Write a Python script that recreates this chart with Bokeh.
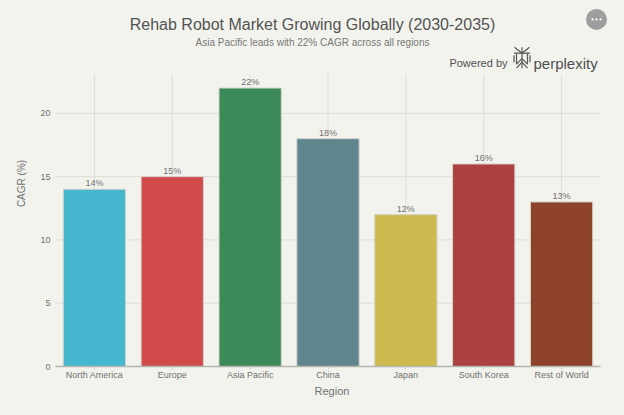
from bokeh.plotting import figure
from bokeh.models import ColumnDataSource, Label, LabelSet, Range1d, FixedTicker
from bokeh.embed import file_html
from bokeh.resources import INLINE
from bokeh.core.properties import value

regions = ["North America", "Europe", "Asia Pacific", "China", "Japan", "South Korea", "Rest of World"]
cagr = [14, 15, 22, 18, 12, 16, 13]
cagr_labels = ["14%", "15%", "22%", "18%", "12%", "16%", "13%"]
colors = ["#45B7CE", "#D24B4B", "#3C8A57", "#5F868E", "#CFBA4F", "#AC4140", "#8E422A"]
y_ticks = [0, 5, 10, 15, 20]

title_text = "Rehab Robot Market Growing Globally (2030-2035)"
subtitle_text = "Asia Pacific leads with 22% CAGR across all regions"

BG = "#F3F3EE"
FONT = "Liberation Sans"
YMAX = 23.1
W, H = 608, 399
X0, PXX = 55.0, 545.0 / 7     # x of category axis start, px per category
PLOT_TOP = 74                 # y of the top of the value area
FB = 368                      # y of value 0 (frame bottom)
PXU = (FB - PLOT_TOP) / YMAX  # px per unit

xpos = [i + 0.5 for i in range(len(regions))]
source = ColumnDataSource(dict(x=xpos, cagr=cagr, label=cagr_labels, color=colors))

p = figure(x_range=Range1d(0, (W - X0) / PXX), y_range=Range1d(0, FB / PXU),
           width=W, height=H, output_backend="svg", toolbar_location=None,
           min_border_left=int(X0), min_border_right=0, min_border_top=0, min_border_bottom=H - FB)
p.background_fill_color = BG
p.border_fill_color = BG
p.outline_line_color = None
p.xgrid.visible = False
p.ygrid.visible = False


def dx(rx):
    return (rx - X0) / PXX


def dy(ry):
    return (FB - ry) / PXU


GRID = "#DEDED8"
p.segment(x0=xpos, y0=[0] * len(xpos), x1=xpos, y1=[YMAX] * len(xpos), line_color=GRID, line_width=1)
p.segment(x0=[dx(52)] * len(y_ticks), y0=y_ticks, x1=[len(regions)] * len(y_ticks), y1=y_ticks,
          line_color=GRID, line_width=1)

p.vbar(x="x", top="cagr", width=0.8, source=source, fill_color="color",
       line_color="#D3D3CD", line_width=1)

labels = LabelSet(x="x", y="cagr", text="label", source=source, text_align="center",
                  text_baseline="alphabetic", y_offset=3, text_font_size="9px",
                  text_color="#707070", text_font=value(FONT))
p.add_layout(labels)

# axes
p.xaxis.ticker = FixedTicker(ticks=xpos)
p.xaxis.major_label_overrides = {x: r for x, r in zip(xpos, regions)}
p.xaxis.bounds = (0, len(regions))
p.yaxis.ticker = FixedTicker(ticks=y_ticks)
p.yaxis.bounds = (0, YMAX)
p.xaxis.axis_label = "Region"
p.yaxis.axis_label = "CAGR (%)"
for ax in (p.xaxis, p.yaxis):
    ax.axis_label_text_font = FONT
    ax.axis_label_text_font_style = "normal"
    ax.axis_label_text_color = "#707070"
    ax.major_label_text_font = FONT
    ax.major_label_text_font_size = "9px"
    ax.major_label_text_color = "#707070"
    ax.minor_tick_line_color = None
p.xaxis.axis_label_text_font_size = "11px"
p.yaxis.axis_label_text_font_size = "10px"
p.xaxis.axis_line_color = "#B5B5B0"
p.xaxis.axis_line_width = 1.5
p.xaxis.major_tick_line_color = "#C8C8C2"
p.xaxis.major_tick_out = 3
p.xaxis.major_tick_in = 0
p.xaxis.major_label_standoff = 0
p.xaxis.axis_label_standoff = 2
p.yaxis.axis_line_color = None
p.yaxis.major_tick_line_color = None
p.yaxis.major_tick_out = 0
p.yaxis.major_tick_in = 0
p.yaxis.major_label_standoff = 5
p.yaxis.axis_label_standoff = 10


def add_text(text, rx, ry, size, color, align="center", baseline="alphabetic"):
    p.add_layout(Label(x=dx(rx), y=dy(ry), text=text, text_align=align, text_baseline=baseline,
                       text_font=FONT, text_font_size=size, text_color=color))


add_text(title_text, 312, 24, "16px", "#535353")
add_text(subtitle_text, 312, 42.5, "10px", "#777777")
add_text("Powered by", 507, 62.5, "11px", "#505050", align="right")
add_text("perplexity", 533, 63, "15px", "#505050", align="left")

# perplexity logo (decorative)
LOGO = [
    [(521.5, 47), (521.5, 68)],
    [(514, 47), (521.5, 53), (529, 47)],
    [(513.5, 53), (529.5, 53)],
    [(516, 53), (516, 64), (521.5, 58.5), (527, 64), (527, 53)],
    [(513.5, 55), (513.5, 62)],
    [(529.5, 55), (529.5, 62)],
    [(516, 68), (521.5, 62), (527, 68)],
]
p.multi_line(xs=[[dx(a) for a, b in seg] for seg in LOGO], ys=[[dy(b) for a, b in seg] for seg in LOGO],
             line_color="#555555", line_width=1.2)

# menu button
p.scatter(x=[dx(596)], y=[dy(19)], size=21, marker="circle", fill_color="#9E9E9E", line_color=None)
p.scatter(x=[dx(592), dx(596), dx(600)], y=[dy(19)] * 3, size=2.2, marker="circle",
          fill_color="white", line_color=None)

html = file_html(p, INLINE)
html = html.replace("</head>", "<style>html, body { background-color: #F3F3EE; }</style></head>", 1)
open("out.html", "w").write(html)
